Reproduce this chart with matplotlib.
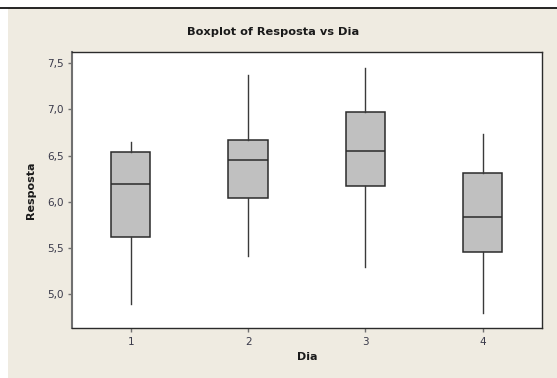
import matplotlib
matplotlib.use("Agg")
import matplotlib.pyplot as plt
from matplotlib.patches import Rectangle
from matplotlib.lines import Line2D

# Data (Resposta by Dia)
dias = ["1", "2", "3", "4"]
whislo = [4.90, 5.41, 5.29, 4.80]
q1 = [5.62, 6.04, 6.17, 5.46]
med = [6.19, 6.45, 6.55, 5.83]
q3 = [6.535, 6.67, 6.97, 6.315]
whishi = [6.65, 7.37, 7.45, 6.73]
yticks = [5.0, 5.5, 6.0, 6.5, 7.0, 7.5]
ytick_labels = ["5,0", "5,5", "6,0", "6,5", "7,0", "7,5"]

W, H = 557, 378
fig = plt.figure(figsize=(W / 100, H / 100), dpi=100)
bg = "#EFEBE1"
fig.patch.set_facecolor(bg)
# white margins at left and top, with a dark rule at the top
fig.patches.append(Rectangle((0, 0), 8 / W, 1, transform=fig.transFigure,
                             facecolor="white", edgecolor="none", zorder=-10))
fig.patches.append(Rectangle((0, (H - 8) / H), 1, 8 / H, transform=fig.transFigure,
                             facecolor="white", edgecolor="none", zorder=-10))
fig.lines.append(Line2D([0, 1], [(H - 7.5) / H] * 2, transform=fig.transFigure,
                        color="black", lw=1.2, zorder=-5))

ax = fig.add_axes([72 / W, (H - 328.3) / H, (541.5 - 72) / W, (328.3 - 52.3) / H])
ax.set_facecolor("white")

stats = []
for i in range(len(dias)):
    stats.append(dict(whislo=whislo[i], q1=q1[i], med=med[i], q3=q3[i],
                      whishi=whishi[i], fliers=[], label=dias[i]))

ax.bxp(stats, positions=range(1, len(dias) + 1), widths=0.335, showcaps=False,
       showfliers=False, patch_artist=True,
       boxprops=dict(facecolor="#C0C0C0", edgecolor="#2b2b2b", linewidth=1.1),
       medianprops=dict(color="#2b2b2b", linewidth=1.1),
       whiskerprops=dict(color="#3a3a3a", linewidth=1.0))

ax.set_xlim(0.5, 4.5)
ax.set_ylim(4.632, 7.616)
ax.set_yticks(yticks)
ax.set_yticklabels(ytick_labels)
ax.set_xticks(range(1, len(dias) + 1))
ax.set_xticklabels(dias)

tick_color = "#3a3a4a"
ax.tick_params(axis="both", direction="out", length=3, width=1, color="#707070",
               labelsize=7.5, labelcolor=tick_color, pad=3)
for s in ax.spines.values():
    s.set_color("#2b2b2b")
    s.set_linewidth(1.0)
ax.spines["left"].set_color("#707070")
ax.spines["left"].set_linewidth(1.5)

ax.set_xlabel("Dia", fontsize=8, fontweight="bold", color="#1a1a1a", labelpad=4)
ax.set_ylabel("Resposta", fontsize=8, fontweight="bold", color="#1a1a1a", labelpad=8)
fig.text(273 / W, 1 - 32 / H, "Boxplot of Resposta vs Dia", ha="center", va="center",
         fontsize=8.2, fontweight="bold", color="#1a1a1a")

fig.savefig("out.png", dpi=100, facecolor=fig.get_facecolor())
